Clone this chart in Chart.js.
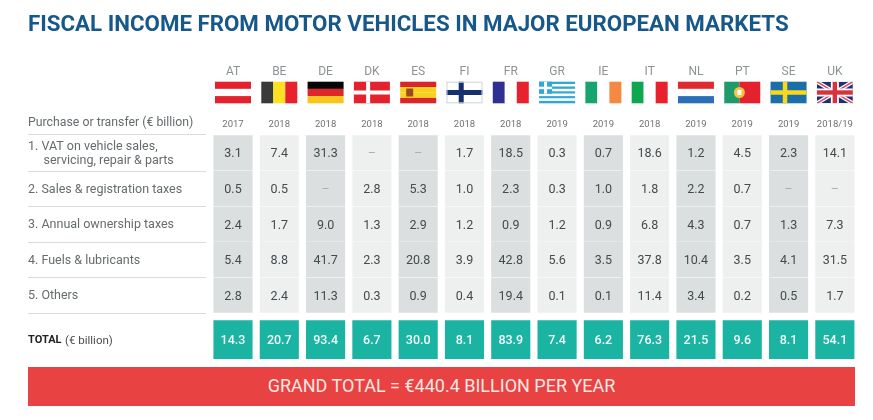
<!DOCTYPE html>
<html>
<head>
<meta charset="utf-8">
<script src="https://cdn.jsdelivr.net/npm/chart.js@4/dist/chart.umd.min.js"></script>
<style>
  html, body { margin: 0; background: #fff; }
  #wrap { position: relative; width: 873px; height: 420px; overflow: hidden; }
  #grand {
    position: absolute; left: 28px; top: 367px; width: 827px; height: 38.5px;
    background: #e84242; color: #fde8e2; text-align: center;
    font: 400 18px/38.5px Roboto, sans-serif;
  }
</style>
</head>
<body>
<div id="wrap">
  <canvas id="chart" width="873" height="420"></canvas>
  <div id="grand">GRAND TOTAL = €440.4 BILLION PER YEAR</div>
</div>
<script>
const countries = ['AT', 'BE', 'DE', 'DK', 'ES', 'FI', 'FR', 'GR', 'IE', 'IT', 'NL', 'PT', 'SE', 'UK'];
const years = ['2017', '2018', '2018', '2018', '2018', '2018', '2018', '2019', '2019', '2018', '2019', '2019', '2019', '2018/19'];
const rowLabels = [
  ['1. VAT on vehicle sales,', '     servicing, repair & parts'],
  '2. Sales & registration taxes',
  '3. Annual ownership taxes',
  '4. Fuels & lubricants',
  '5. Others',
  'TOTAL'
];
const vat = [3.1, 7.4, 31.3, null, null, 1.7, 18.5, 0.3, 0.7, 18.6, 1.2, 4.5, 2.3, 14.1];
const registration = [0.5, 0.5, null, 2.8, 5.3, 1.0, 2.3, 0.3, 1.0, 1.8, 2.2, 0.7, null, null];
const ownership = [2.4, 1.7, 9.0, 1.3, 2.9, 1.2, 0.9, 1.2, 0.9, 6.8, 4.3, 0.7, 1.3, 7.3];
const fuels = [5.4, 8.8, 41.7, 2.3, 20.8, 3.9, 42.8, 5.6, 3.5, 37.8, 10.4, 3.5, 4.1, 31.5];
const others = [2.8, 2.4, 11.3, 0.3, 0.9, 0.4, 19.4, 0.1, 0.1, 11.4, 3.4, 0.2, 0.5, 1.7];
const totals = [14.3, 20.7, 93.4, 6.7, 30.0, 8.1, 83.9, 7.4, 6.2, 76.3, 21.5, 9.6, 8.1, 54.1];

const FONT = 'Roboto, sans-serif';
const rows = [vat, registration, ownership, fuels, others];
const totalBand = [5.2, 6.29];
const rowCenters = [0.5, 1.5, 2.5, 3.5, 4.5, (totalBand[0] + totalBand[1]) / 2];
const textDrop = 1.4; // text sits a bit under the middle of the cell

// one dataset per table row, every cell is a floating bar
const datasets = rows.map((values, r) => ({
  label: 'row' + r,
  values: values,
  data: countries.map(() => [r + 0.006, r + 0.994]),
  backgroundColor: countries.map((c, i) => i % 2 ? '#eeefef' : '#dbdfdf')
}));
datasets.push({
  label: 'total',
  values: totals,
  data: countries.map(() => totalBand),
  backgroundColor: '#1bb3a2'
});

// flags, drawn relative to their box
function bars(ctx, x, y, w, h, colors, vertical) {
  colors.forEach((c, i) => {
    ctx.fillStyle = c;
    if (vertical) ctx.fillRect(x + w * i / colors.length, y, w / colors.length, h);
    else ctx.fillRect(x, y + h * i / colors.length, w, h / colors.length);
  });
}
function cross(ctx, x, y, w, h, bg, fg, t) {
  ctx.fillStyle = bg;
  ctx.fillRect(x, y, w, h);
  ctx.fillStyle = fg;
  ctx.fillRect(x + w * 0.34, y, t, h);
  ctx.fillRect(x, y + h / 2 - t / 2, w, t);
}
const flags = {
  AT: (c, x, y, w, h) => bars(c, x, y, w, h, ['#e4222e', '#ffffff', '#e4222e']),
  BE: (c, x, y, w, h) => bars(c, x, y, w, h, ['#3a3a3a', '#fbe122', '#e8222d'], true),
  DE: (c, x, y, w, h) => bars(c, x, y, w, h, ['#050505', '#e0252b', '#f8c51c']),
  DK: (c, x, y, w, h) => cross(c, x, y, w, h, '#e4222e', '#ffffff', 4),
  ES: (c, x, y, w, h) => {
    bars(c, x, y, w, h, ['#d9252c', '#f8d21c', '#f8d21c', '#d9252c']);
    c.fillStyle = '#9c4a1a';
    c.fillRect(x + 6, y + h / 2 - 4, 7, 8);
  },
  FI: (c, x, y, w, h) => {
    cross(c, x, y, w, h, '#ffffff', '#14306f', 5);
    c.strokeStyle = '#cfd3d6';
    c.strokeRect(x + 0.5, y + 0.5, w - 1, h - 1);
  },
  FR: (c, x, y, w, h) => bars(c, x, y, w, h, ['#2e3192', '#ffffff', '#e8222d'], true),
  GR: (c, x, y, w, h) => {
    for (let i = 0; i < 9; i++) {
      c.fillStyle = i % 2 ? '#ffffff' : '#2fa8d8';
      c.fillRect(x, y + h * i / 9, w, h / 9);
    }
    c.fillStyle = '#2fa8d8';
    c.fillRect(x, y, 13, 12);
    c.fillStyle = '#ffffff';
    c.fillRect(x + 5, y, 3, 12);
    c.fillRect(x, y + 5, 13, 2.5);
  },
  IE: (c, x, y, w, h) => bars(c, x, y, w, h, ['#16a56e', '#ffffff', '#f58842'], true),
  IT: (c, x, y, w, h) => bars(c, x, y, w, h, ['#0fa650', '#ffffff', '#e8222d'], true),
  NL: (c, x, y, w, h) => bars(c, x, y, w, h, ['#e02a32', '#ffffff', '#2b6fb8']),
  PT: (c, x, y, w, h) => {
    c.fillStyle = '#1f9a6a';
    c.fillRect(x, y, w * 0.42, h);
    c.fillStyle = '#e4222e';
    c.fillRect(x + w * 0.42, y, w * 0.58, h);
    c.fillStyle = '#f6c445';
    c.beginPath();
    c.arc(x + w * 0.42, y + h / 2, 5.5, 0, Math.PI * 2);
    c.fill();
    c.fillStyle = '#ffffff';
    c.fillRect(x + w * 0.42 - 2, y + h / 2 - 2.5, 4, 5);
  },
  SE: (c, x, y, w, h) => cross(c, x, y, w, h, '#1b6ea8', '#f8d81c', 4.5),
  UK: (c, x, y, w, h) => {
    c.save();
    c.beginPath();
    c.rect(x, y, w, h);
    c.clip();
    c.fillStyle = '#1f2f72';
    c.fillRect(x, y, w, h);
    const diag = (color, lw) => {
      c.strokeStyle = color;
      c.lineWidth = lw;
      c.beginPath();
      c.moveTo(x, y); c.lineTo(x + w, y + h);
      c.moveTo(x + w, y); c.lineTo(x, y + h);
      c.stroke();
    };
    diag('#ffffff', 4);
    diag('#d94a5e', 1.5);
    c.fillStyle = '#ffffff';
    c.fillRect(x + w / 2 - 4, y, 8, h);
    c.fillRect(x, y + h / 2 - 4, w, 8);
    c.fillStyle = '#d8323f';
    c.fillRect(x + w / 2 - 2.2, y, 4.4, h);
    c.fillRect(x, y + h / 2 - 2.2, w, 4.4);
    c.restore();
  }
};

const tablePlugin = {
  id: 'tablePlugin',
  afterDatasetsDraw(chart) {
    const ctx = chart.ctx;
    const xs = chart.scales.x;
    const ys = chart.scales.y;
    ctx.save();

    // cell values
    ctx.textAlign = 'center';
    ctx.textBaseline = 'middle';
    chart.data.datasets.forEach((ds, d) => {
      const isTotal = d === rows.length;
      chart.getDatasetMeta(d).data.forEach((bar, i) => {
        const v = ds.values[i];
        const cy = (bar.y + bar.base) / 2 + textDrop;
        ctx.font = (isTotal ? '500 12.5px ' : '12.5px ') + FONT;
        ctx.fillStyle = isTotal ? '#f2fbfa' : (v === null ? '#aab0b2' : '#444a4d');
        ctx.fillText(v === null ? '–' : v.toFixed(1), bar.x, cy);
      });
    });

    // flags
    countries.forEach((c, i) => {
      flags[c](ctx, xs.getPixelForValue(i) - 18, 81.7, 36, 21.6);
    });

    // separators left of the cells
    ctx.strokeStyle = '#d9dbdc';
    ctx.lineWidth = 1;
    for (let r = 0; r <= rows.length; r++) {
      const py = Math.round(ys.getPixelForValue(r)) + (r ? 0.5 : -0.5);
      ctx.beginPath();
      ctx.moveTo(28, py);
      ctx.lineTo(206, py);
      ctx.stroke();
    }

    // labels that the axis can't set in mixed weights or above the first row
    ctx.textAlign = 'left';
    ctx.font = '12.3px ' + FONT;
    ctx.fillStyle = '#666b6e';
    ctx.fillText('Purchase or transfer (€ billion)', 28, 122 + textDrop);
    ctx.font = '11.5px ' + FONT;
    ctx.fillStyle = '#4a4e50';
    ctx.fillText('(€ billion)', 65, ys.getPixelForValue(rowCenters[5]) + textDrop);
    ctx.restore();
  }
};

// the long last label and tick padding would otherwise pull the right edge in
function fixTopAxis(height) {
  return s => {
    s.height = height;
    s.paddingLeft = 0;
    s.paddingRight = 0;
  };
}

new Chart(document.getElementById('chart'), {
  type: 'bar',
  data: { labels: countries, datasets: datasets },
  options: {
    responsive: false,
    animation: false,
    layout: { padding: { left: 28, right: 15, top: 12, bottom: 61 } },
    datasets: { bar: { grouped: false, barPercentage: 1, categoryPercentage: 0.845, borderWidth: 0 } },
    plugins: {
      legend: { display: false },
      tooltip: { enabled: false },
      title: {
        display: true,
        text: 'FISCAL INCOME FROM MOTOR VEHICLES IN MAJOR EUROPEAN MARKETS',
        align: 'start',
        color: '#17588a',
        font: { family: FONT, size: 22.3, weight: 'bold' },
        padding: { top: 0, bottom: 11.3 }
      }
    },
    scales: {
      x: {
        position: 'top',
        offset: true,
        weight: 0,
        grid: { display: false, drawTicks: false },
        border: { display: false },
        afterFit: fixTopAxis(23),
        ticks: {
          callback: (v, i) => years[i],
          autoSkip: false,
          maxRotation: 0,
          padding: 4.8,
          color: '#6d7275',
          font: { family: FONT, size: 9.5 }
        }
      },
      xCountry: {
        type: 'category',
        labels: countries,
        position: 'top',
        offset: true,
        weight: 1,
        grid: { display: false, drawTicks: false },
        border: { display: false },
        afterFit: fixTopAxis(62),
        ticks: {
          autoSkip: false,
          maxRotation: 0,
          padding: 32.5,
          color: '#8d9295',
          font: { family: FONT, size: 12 }
        }
      },
      y: {
        type: 'linear',
        reverse: true,
        min: 0,
        max: totalBand[1],
        grid: { display: false },
        border: { display: false },
        afterFit: s => { s.width = 181.85; },
        afterBuildTicks: s => {
          const unit = Math.abs(s.getPixelForValue(1) - s.getPixelForValue(0)) || 35.6;
          s.ticks = rowCenters.map(v => ({ value: v + textDrop / unit }));
        },
        ticks: {
          callback: (v, i) => rowLabels[i],
          autoSkip: false,
          crossAlign: 'far',
          padding: 0,
          color: ctx => ctx.index === 5 ? '#222222' : '#666b6e',
          font: ctx => ctx.index === 5
            ? { family: FONT, size: 11, weight: 'bold', lineHeight: 1.1 }
            : { family: FONT, size: 12.5, lineHeight: 1.1 }
        }
      }
    }
  },
  plugins: [tablePlugin]
});
</script>
</body>
</html>
